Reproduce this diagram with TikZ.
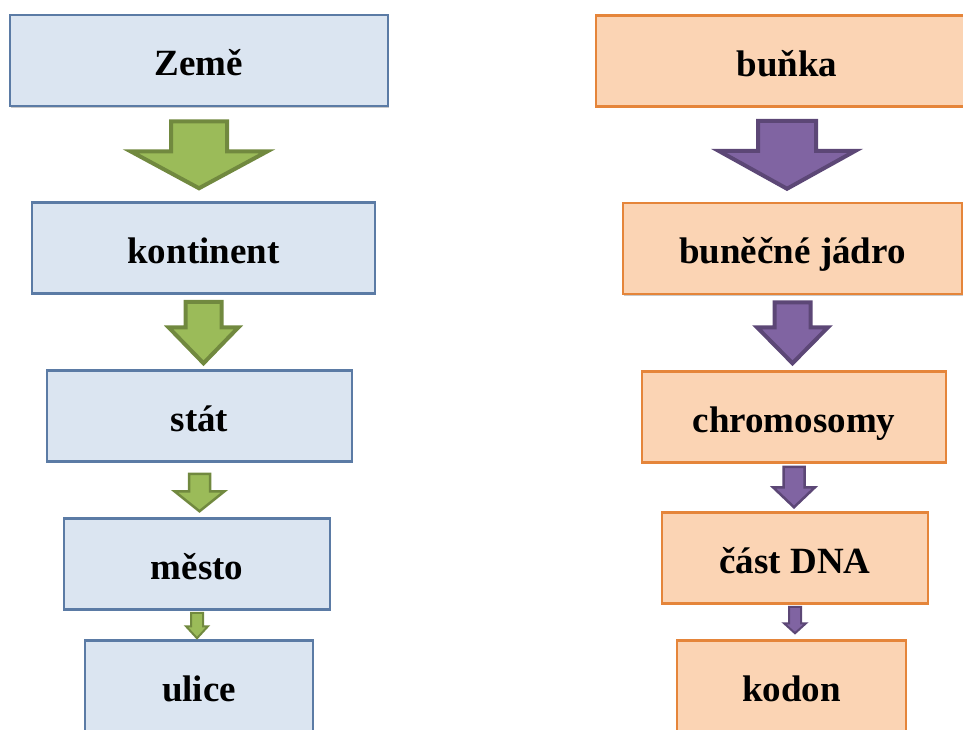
\documentclass[tikz,border=0pt]{standalone}
\usepackage{fontspec}
\setmainfont{Liberation Serif}
\usetikzlibrary{calc}
\usetikzlibrary{shadows}
\definecolor{boxblue}{HTML}{DBE5F1}
\definecolor{lineblue}{HTML}{5B7BA5}
\definecolor{boxorange}{HTML}{FBD4B4}
\definecolor{lineorange}{HTML}{E5853A}
\definecolor{arrowgreen}{HTML}{9BBB59}
\definecolor{edgegreen}{HTML}{71893F}
\definecolor{arrowpurple}{HTML}{8064A2}
\definecolor{edgepurple}{HTML}{5C4776}
\tikzset{
	level/.style={line width=2.5pt, minimum height=91pt, text height=33pt, text depth=3pt,
		font=\bfseries\fontsize{37}{40}\selectfont,
		drop shadow={shadow xshift=1pt, shadow yshift=-1.5pt, opacity=0.35, fill=black!60}},
	earth/.style={level, draw=lineblue, fill=boxblue},
	cell/.style={level, draw=lineorange, fill=boxorange},
	greenarrow/.style={draw=edgegreen, fill=arrowgreen},
	purplearrow/.style={draw=edgepurple, fill=arrowpurple}
}
% [style]{from}{to}{top gap}{tip gap}{shaft half width}{head half width}{head length}
\newcommand{\blockarrow}[8][]{%
	\draw[#1] let \p1=($(#2.south)+(0,-#4)$), \p2=($(#3.north)+(0,#5)$) in
		(\x1-#6pt,\y1) -- (\x1+#6pt,\y1) -- (\x1+#6pt,\y2+#8pt) -- (\x1+#7pt,\y2+#8pt)
		-- (\x1,\y2) -- (\x1-#7pt,\y2+#8pt) -- (\x1-#6pt,\y2+#8pt) -- cycle;
}

\begin{document}
\begin{tikzpicture}[x=1pt,y=1pt]
	\useasboundingbox (0,0) rectangle (963,-729);
	\node[earth, minimum width=378pt] (zeme) at (199,-60.5) {Země};
	\node[earth, minimum width=343pt] (kontinent) at (203.5,-248) {kontinent};
	\node[earth, minimum width=305pt] (stat) at (199.5,-416) {stát};
	\node[earth, minimum width=266pt] (mesto) at (197,-564) {město};
	\node[earth, minimum width=228pt] (ulice) at (199,-686) {ulice};

	\node[cell, minimum width=382pt] (bunka) at (787,-61) {buňka};
	\node[cell, minimum width=339pt] (jadro) at (792.5,-248.5) {buněčné jádro};
	\node[cell, minimum width=304pt] (chromo) at (794,-417) {chromosomy};
	\node[cell, minimum width=266pt] (cast) at (795,-558) {část DNA};
	\node[cell, minimum width=229pt] (kodon) at (791.5,-686) {kodon};

	\blockarrow[greenarrow, line width=4pt, xshift=-7pt]{zeme}{kontinent}{14}{13}{28}{68.5}{37}
	\blockarrow[greenarrow, line width=4pt, xshift=-10pt]{kontinent}{stat}{7}{6}{18}{35}{36}
	\blockarrow[greenarrow, line width=2.5pt, xshift=-2pt]{stat}{mesto}{11}{6}{10.5}{25}{20}
	\blockarrow[greenarrow, line width=2pt]{mesto}{ulice}{2}{1}{6}{11}{12}

	\blockarrow[purplearrow, line width=4pt, xshift=2pt]{bunka}{jadro}{13}{13}{29}{68.5}{38}
	\blockarrow[purplearrow, line width=4pt, xshift=-7pt]{jadro}{chromo}{7}{7}{18}{35.5}{36}
	\blockarrow[purplearrow, line width=2.5pt, xshift=-5pt]{chromo}{cast}{3}{4}{10.5}{21}{20}
	\blockarrow[purplearrow, line width=2pt, xshift=-3pt]{cast}{kodon}{2}{6}{6}{11}{10}
\end{tikzpicture}
\end{document}
